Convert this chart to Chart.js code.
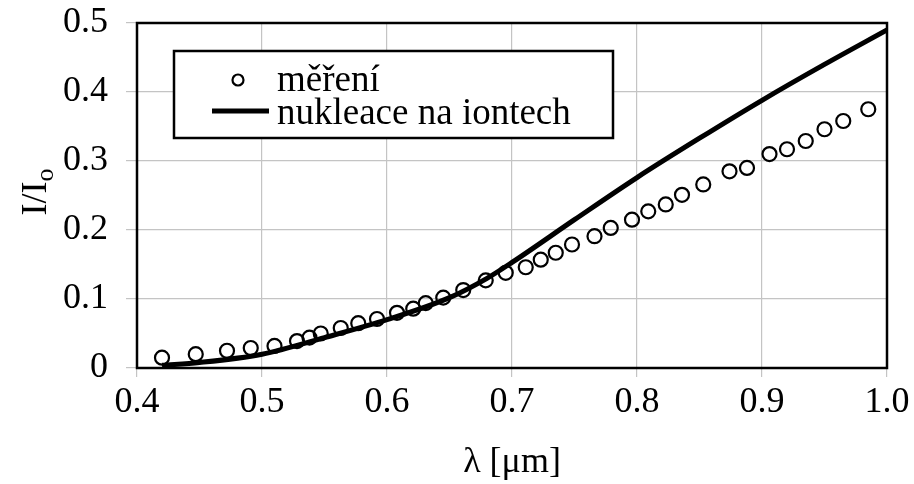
<!DOCTYPE html>
<html>
<head>
<meta charset="utf-8">
<script src="https://cdn.jsdelivr.net/npm/chart.js@4/dist/chart.umd.min.js"></script>
<style>
  html, body { margin: 0; padding: 0; background: #fff; }
  #wrap { position: relative; width: 914px; height: 484px; }
</style>
</head>
<body>
<div id="wrap"><canvas id="chart"></canvas></div>
<script>
const measuredLambda = [0.420, 0.447, 0.472, 0.491, 0.510, 0.528, 0.538, 0.547, 0.563, 0.577,
  0.592, 0.608, 0.621, 0.631, 0.645, 0.661, 0.679, 0.695, 0.711, 0.723,
  0.735, 0.748, 0.766, 0.779, 0.796, 0.809, 0.823, 0.836, 0.853, 0.874,
  0.888, 0.906, 0.920, 0.935, 0.950, 0.965, 0.985];
const measuredRatio = [0.015, 0.020, 0.025, 0.029, 0.032, 0.039, 0.044, 0.050, 0.058, 0.065,
  0.071, 0.080, 0.086, 0.094, 0.102, 0.113, 0.127, 0.138, 0.146, 0.157,
  0.167, 0.179, 0.191, 0.203, 0.215, 0.227, 0.237, 0.251, 0.266, 0.285,
  0.290, 0.310, 0.317, 0.329, 0.346, 0.358, 0.375];

const modelLambda = [0.42, 0.45, 0.50, 0.55, 0.60, 0.65, 0.68, 0.70, 0.75, 0.80, 0.85, 0.90, 0.95, 1.00];
const modelRatio = [0.004, 0.008, 0.020, 0.044, 0.070, 0.102, 0.130, 0.153, 0.215, 0.276, 0.333, 0.388, 0.440, 0.490];

const xTicks = [0.4, 0.5, 0.6, 0.7, 0.8, 0.9, 1.0];
const yTicks = [0, 0.1, 0.2, 0.3, 0.4, 0.5];
const seriesNames = ["měření", "nukleace na iontech"];

const serif = '"Liberation Serif", "Times New Roman", serif';

function pairs(xs, ys) {
  return xs.map((x, i) => ({ x: x, y: ys[i] }));
}

// frame round the plot, y title with subscript, legend box
const extras = {
  id: "extras",
  afterDraw(chart) {
    const ctx = chart.ctx;
    const a = chart.chartArea;
    ctx.save();
    ctx.strokeStyle = "#000";
    ctx.lineWidth = 2.5;
    ctx.strokeRect(a.left, a.top, a.right - a.left, a.bottom - a.top);

    // y title
    ctx.fillStyle = "#000";
    ctx.translate(46, 192);
    ctx.rotate(-Math.PI / 2);
    ctx.font = "36px " + serif;
    ctx.textBaseline = "alphabetic";
    const main = "I/I";
    const w = ctx.measureText(main).width;
    ctx.font = "26px " + serif;
    const ws = ctx.measureText("o").width;
    const x0 = -(w + ws) / 2;
    ctx.font = "36px " + serif;
    ctx.fillText(main, x0, 0);
    ctx.font = "26px " + serif;
    ctx.fillText("o", x0 + w, 7);
    ctx.restore();

    // legend
    ctx.save();
    ctx.fillStyle = "#fff";
    ctx.fillRect(174, 51, 439, 87);
    ctx.strokeStyle = "#000";
    ctx.lineWidth = 2.5;
    ctx.strokeRect(174, 51, 439, 87);
    ctx.lineWidth = 2.2;
    ctx.beginPath();
    ctx.arc(238, 80, 5.5, 0, Math.PI * 2);
    ctx.stroke();
    ctx.lineWidth = 5;
    ctx.beginPath();
    ctx.moveTo(212, 111);
    ctx.lineTo(269, 111);
    ctx.stroke();
    ctx.fillStyle = "#000";
    ctx.font = "37px " + serif;
    ctx.textBaseline = "alphabetic";
    ctx.fillText(seriesNames[0], 277, 91);
    ctx.fillText(seriesNames[1], 277, 124);
    ctx.restore();
  }
};

new Chart(document.getElementById("chart"), {
  type: "scatter",
  data: {
    datasets: [
      {
        label: seriesNames[0],
        data: pairs(measuredLambda, measuredRatio),
        showLine: false,
        pointStyle: "circle",
        pointRadius: 7,
        pointBorderWidth: 2.2,
        pointBorderColor: "#000",
        pointBackgroundColor: "rgba(0,0,0,0)",
        order: 2
      },
      {
        label: seriesNames[1],
        data: pairs(modelLambda, modelRatio),
        showLine: true,
        borderColor: "#000",
        borderWidth: 5,
        pointRadius: 0,
        cubicInterpolationMode: "monotone",
        order: 1
      }
    ]
  },
  options: {
    responsive: true,
    maintainAspectRatio: false,
    animation: false,
    layout: { padding: { top: 23, right: 27, left: 0, bottom: 0 } },
    plugins: {
      legend: { display: false },
      tooltip: { enabled: false }
    },
    scales: {
      x: {
        type: "linear",
        min: 0.4,
        max: 1.0,
        afterFit(scale) { scale.height = 116; },
        afterBuildTicks(scale) { scale.ticks = xTicks.map(v => ({ value: v })); },
        grid: { color: "#c4c4c4", lineWidth: 1.2, tickLength: 9 },
        border: { display: false },
        ticks: {
          color: "#000",
          padding: 4,
          maxRotation: 0,
          font: { family: serif, size: 36 },
          callback: v => v.toFixed(1)
        },
        title: {
          display: true,
          text: "λ [μm]",
          color: "#000",
          padding: { top: 0, bottom: 0 },
          font: { family: serif, size: 36 }
        }
      },
      y: {
        type: "linear",
        min: 0,
        max: 0.5,
        afterFit(scale) {
          scale.width = 137;
          scale.paddingTop = 0;
          scale.paddingBottom = 0;
        },
        afterBuildTicks(scale) { scale.ticks = yTicks.map(v => ({ value: v })); },
        grid: { color: "#c4c4c4", lineWidth: 1.2, tickLength: 11 },
        border: { display: false },
        ticks: {
          color: "#000",
          padding: 18,
          font: { family: serif, size: 36 },
          callback: v => (v === 0 ? "0" : v.toFixed(1))
        }
      }
    }
  },
  plugins: [extras]
});
</script>
</body>
</html>
